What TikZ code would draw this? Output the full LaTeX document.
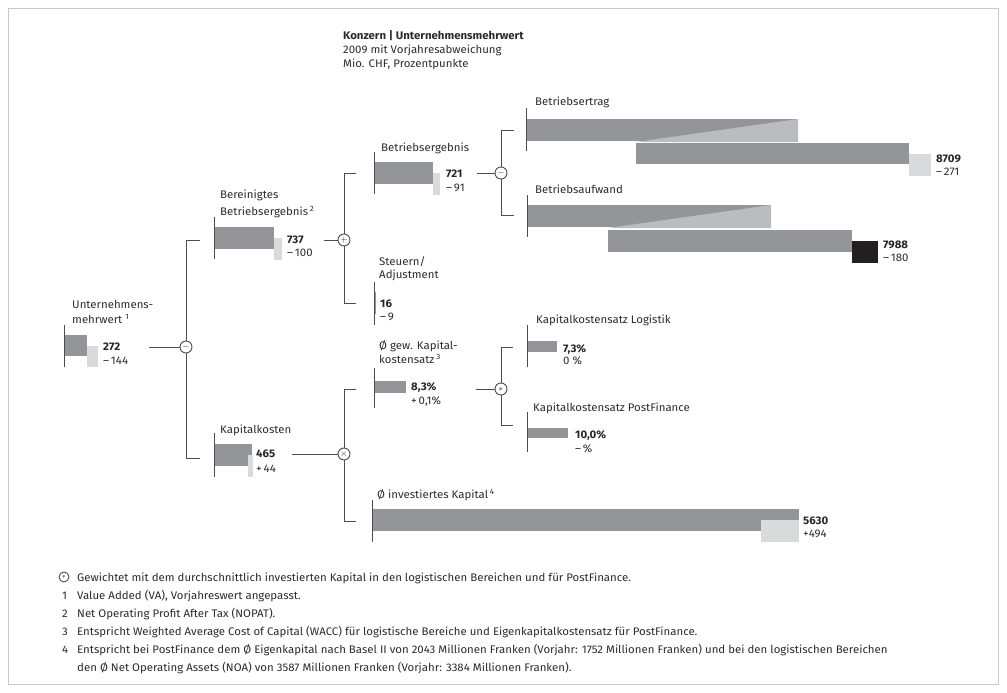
\documentclass[tikz,border=0pt]{standalone}
\usepackage{fontspec}
\setmainfont{Fira Sans}[FakeStretch=1.04]
\usetikzlibrary{positioning}

\definecolor{bardark}{HTML}{939598}
\definecolor{barlight}{HTML}{D9DADB}
\definecolor{barwedge}{HTML}{BBBCBF}
\definecolor{barneg}{HTML}{231F20}
\definecolor{linecol}{HTML}{4D4D4F}
\definecolor{framecol}{HTML}{C8C8C8}
\definecolor{textcol}{HTML}{2B2B2B}

\newcommand{\fnmark}[1]{\,\textsuperscript{#1}}

\begin{document}
\begin{tikzpicture}[x=1pt, y=-1pt, text=textcol,
	font=\fontsize{11}{13}\selectfont,
	op/.style={circle, draw=linecol, fill=white, line width=0.9pt, inner sep=0pt, minimum size=12pt, font=\small},
	conn/.style={draw=linecol, line width=0.8pt},
	axis/.style={draw=linecol, line width=0.8pt},
	lbl/.style={anchor=base west, inner sep=0pt},
	val/.style={anchor=base west, inner sep=0pt, font=\fontsize{11}{13}\selectfont\bfseries, text=black!85},
	cur/.style={fill=bardark},
	prev/.style={fill=barlight}]

	\useasboundingbox (0,0) rectangle (1007,693);
	\draw[framecol] (8.5,8.5) rectangle (998.5,684.5);

	% title
	\node[lbl, font=\fontsize{11}{13}\selectfont\bfseries] (title) at (343,40) {Konzern | Unternehmensmehrwert};
	\node[lbl] (sub1) at (343,54) {2009 mit Vorjahresabweichung};
	\node[lbl] (sub2) at (343,68) {Mio. CHF, Prozentpunkte};

	% operators
	\node[op] (m1) at (186,347) {$-$};
	\node[op] (p1) at (344,240) {$+$};
	\node[op] (x1) at (344,454) {$\times$};
	\node[op] (m2) at (501,173) {$-$};
	\node[op] (s1) at (501,389) {$\ast$};

	% Unternehmensmehrwert
	\node[lbl] (uw) at (72,308) {Unternehmens-};
	\node[lbl] at (72,323) {mehrwert\ \textsuperscript{1}};
	\fill[cur] (64,335) rectangle (87,356);
	\fill[prev] (87,346) rectangle (98,367);
	\draw[axis] (64,325) -- (64,367);
	\node[val] (uw-v) at (103,350) {272};
	\node[lbl] at (103,364) {–\,144};
	\coordinate (uw-out) at (149,347);

	% Bereinigtes Betriebsergebnis
	\node[lbl] (bb) at (220,198) {Bereinigtes};
	\node[lbl] at (220,215) {Betriebsergebnis\fnmark{2}};
	\fill[cur] (214,227) rectangle (274,249);
	\fill[prev] (274,238) rectangle (282,260);
	\draw[axis] (214,217) -- (214,259);
	\node[val] (bb-v) at (287,243) {737};
	\node[lbl] at (287,256) {–\,100};
	\coordinate (bb-in) at (200,240);
	\coordinate (bb-out) at (324,240);

	% Kapitalkosten
	\node[lbl] (kk) at (220,433) {Kapitalkosten};
	\fill[cur] (214,444) rectangle (252,466);
	\fill[prev] (248,455) rectangle (253,477);
	\draw[axis] (214,433) -- (214,477);
	\node[val] (kk-v) at (256,457) {465};
	\node[lbl] at (256,472) {+\,44};
	\coordinate (kk-in) at (200,458);
	\coordinate (kk-out) at (292,454);

	% Betriebsergebnis
	\node[lbl] (be) at (381,151) {Betriebsergebnis};
	\fill[cur] (374,162) rectangle (433,184);
	\fill[prev] (433,173) rectangle (440,195);
	\draw[axis] (374,152) -- (374,194);
	\node[val] (be-v) at (446,177) {721};
	\node[lbl] at (446,191) {–\,91};
	\coordinate (be-in) at (356,173);
	\coordinate (be-out) at (477,173);

	% Steuern/Adjustment
	\node[lbl] (st) at (379,265) {Steuern/};
	\node[lbl] at (379,278) {Adjustment};
	\fill[cur] (374,292) rectangle (376,314);
	\draw[axis] (374,282) -- (374,325);
	\node[val] (st-v) at (380,307) {16};
	\node[lbl] at (380,320) {–\,9};
	\coordinate (st-in) at (356,303);

	% Kapitalkostensatz
	\node[lbl] (ks) at (379,349) {Ø gew. Kapital-};
	\node[lbl] at (379,363) {kostensatz\fnmark{3}};
	\fill[cur] (374,381) rectangle (406,393);
	\draw[axis] (374,368) -- (374,408);
	\node[val] (ks-v) at (411,390) {8,3\%};
	\node[lbl] at (411,404) {+\,0,1\%};
	\coordinate (ks-in) at (356,389);
	\coordinate (ks-out) at (476,389);

	% investiertes Kapital
	\node[lbl] (ik) at (377,498) {Ø investiertes Kapital\fnmark{4}};
	\fill[cur] (372,509) rectangle (799,531);
	\fill[prev] (761,520) rectangle (799,542);
	\draw[axis] (372,500) -- (372,542);
	\node[val] (ik-v) at (803,524) {5630};
	\node[lbl] at (803,537) {+494};
	\coordinate (ik-in) at (356,521);

	% Betriebsertrag
	\node[lbl] (et) at (535,106) {Betriebsertrag};
	\fill[cur] (526,119) rectangle (798,141);
	\fill[barwedge] (636,142) -- (798,119) -- (798,142) -- cycle;
	\fill[cur] (636,143) rectangle (909,164);
	\fill[prev] (909,154) rectangle (931,176);
	\draw[axis] (526,108) -- (526,151);
	\node[val] (et-v) at (936,162) {8709};
	\node[lbl] at (936,175) {–\,271};
	\coordinate (et-in) at (514,130);

	% Betriebsaufwand
	\node[lbl] (ea) at (535,193) {Betriebsaufwand};
	\fill[cur] (527,205) rectangle (771,227);
	\fill[barwedge] (608,228) -- (771,205) -- (771,228) -- cycle;
	\fill[cur] (608,230) rectangle (852,252);
	\fill[barneg] (852,241) rectangle (878,263);
	\draw[axis] (527,195) -- (527,237);
	\node[val] (ea-v) at (883,248) {7988};
	\node[lbl] at (883,261) {–\,180};
	\coordinate (ea-in) at (514,215);

	% Kapitalkostensatz Logistik / PostFinance
	\node[lbl] (lg) at (536,323) {Kapitalkostensatz Logistik};
	\fill[cur] (527,341) rectangle (557,352);
	\draw[axis] (527,325) -- (527,367);
	\node[val] (lg-v) at (563,352) {7,3\%};
	\node[lbl] at (563,364) {0 \%};
	\coordinate (lg-in) at (513,347);

	\node[lbl] (pf) at (533,411) {Kapitalkostensatz PostFinance};
	\fill[cur] (527,428) rectangle (568,438);
	\draw[axis] (527,412) -- (527,452);
	\node[val] (pf-v) at (575,438) {10,0\%};
	\node[lbl] at (575,452) {–\,\%};
	\coordinate (pf-in) at (513,425);

	% tree
	\draw[conn] (uw-out) -- (m1);
	\draw[conn] (bb-in) -| (m1) |- (kk-in);
	\draw[conn] (bb-out) -- (p1);
	\draw[conn] (be-in) -| (p1) |- (st-in);
	\draw[conn] (kk-out) -- (x1);
	\draw[conn] (ks-in) -| (x1) |- (ik-in);
	\draw[conn] (be-out) -- (m2);
	\draw[conn] (et-in) -| (m2) |- (ea-in);
	\draw[conn] (ks-out) -- (s1);
	\draw[conn] (lg-in) -| (s1) |- (pf-in);

	% footnotes
	\node[op, minimum size=10pt, font=\scriptsize] (fn-star) at (64,577) {$\ast$};
	\node[lbl] at (77,581) {Gewichtet mit dem durchschnittlich investierten Kapital in den logistischen Bereichen und für PostFinance.};
	\node[lbl] at (62,599) {1};
	\node[lbl] at (77,599) {Value Added (VA), Vorjahreswert angepasst.};
	\node[lbl] at (62,617) {2};
	\node[lbl] at (77,617) {Net Operating Profit After Tax (NOPAT).};
	\node[lbl] at (62,635) {3};
	\node[lbl] at (77,635) {Entspricht Weighted Average Cost of Capital (WACC) für logistische Bereiche und Eigenkapitalkostensatz für PostFinance.};
	\node[lbl] at (62,653) {4};
	\node[lbl] at (77,653) {Entspricht bei PostFinance dem Ø Eigenkapital nach Basel II von 2043 Millionen Franken (Vorjahr: 1752 Millionen Franken) und bei den logistischen Bereichen};
	\node[lbl] at (77,671) {den Ø Net Operating Assets (NOA) von 3587 Millionen Franken (Vorjahr: 3384 Millionen Franken).};

\end{tikzpicture}
\end{document}
